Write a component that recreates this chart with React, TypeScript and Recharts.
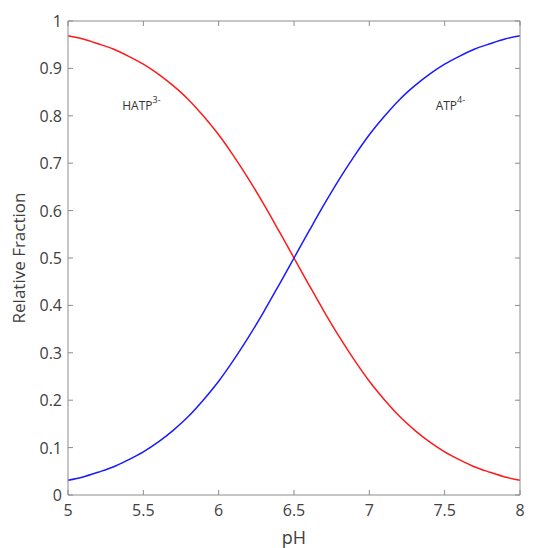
import { LineChart, Line, XAxis, YAxis, ReferenceDot, Label } from "recharts";

// pH grid and the fraction of each species read along it
const phValues = [
  5.0, 5.1, 5.2, 5.3, 5.4, 5.5, 5.6, 5.7, 5.8, 5.9, 6.0, 6.1, 6.2, 6.3, 6.4, 6.5,
  6.6, 6.7, 6.8, 6.9, 7.0, 7.1, 7.2, 7.3, 7.4, 7.5, 7.6, 7.7, 7.8, 7.9, 8.0,
];
const atp4 = [
  0.031, 0.038, 0.048, 0.059, 0.074, 0.091, 0.112, 0.137, 0.166, 0.201, 0.24,
  0.285, 0.334, 0.387, 0.443, 0.5, 0.557, 0.613, 0.666, 0.715, 0.76, 0.799,
  0.834, 0.863, 0.888, 0.909, 0.926, 0.941, 0.952, 0.962, 0.969,
];
const hatp3 = [
  0.969, 0.962, 0.952, 0.941, 0.926, 0.909, 0.888, 0.863, 0.834, 0.799, 0.76,
  0.715, 0.666, 0.613, 0.557, 0.5, 0.443, 0.387, 0.334, 0.285, 0.24, 0.201,
  0.166, 0.137, 0.112, 0.091, 0.074, 0.059, 0.048, 0.038, 0.031,
];
const xTicks = [5, 5.5, 6, 6.5, 7, 7.5, 8];
const yTicks = [0, 0.1, 0.2, 0.3, 0.4, 0.5, 0.6, 0.7, 0.8, 0.9, 1];

const rows = phValues.map((ph, i) => ({ ph, atp4: atp4[i], hatp3: hatp3[i] }));

const FONT = "'Open Sans', sans-serif";
const AXIS = "#8c8c8c";
const TEXT = "#404040";

function BottomTick({ x, y, payload }: any) {
  return (
    <g>
      <line x1={x} y1={y} x2={x} y2={y - 5} stroke={AXIS} />
      <text x={x} y={y + 21} textAnchor="middle" fill={TEXT} fontSize={16} fontFamily={FONT}>
        {payload.value}
      </text>
    </g>
  );
}

function LeftTick({ x, y, payload }: any) {
  return (
    <g>
      <line x1={x} y1={y} x2={x + 5} y2={y} stroke={AXIS} />
      <text x={x - 6} y={y + 6} textAnchor="end" fill={TEXT} fontSize={16} fontFamily={FONT}>
        {payload.value}
      </text>
    </g>
  );
}

function TopTick({ x, y }: any) {
  return <line x1={x} y1={y} x2={x} y2={y + 5} stroke={AXIS} />;
}

function RightTick({ x, y }: any) {
  return <line x1={x} y1={y} x2={x - 5} y2={y} stroke={AXIS} />;
}

function speciesLabel(name: string, charge: string) {
  return ({ viewBox }: any) => (
    <text x={viewBox.x} y={viewBox.y} fill="#333" fontSize={12} fontFamily={FONT}>
      {name}
      <tspan dy={-7} fontSize={9}>
        {charge}
      </tspan>
    </text>
  );
}

export default function App() {
  return (
    <div style={{ width: 541, height: 540, background: "#fff" }}>
      <LineChart
        width={541}
        height={540}
        data={rows}
        margin={{ top: 12, right: 28, left: 0, bottom: 21 }}
      >
        <XAxis
          dataKey="ph"
          type="number"
          domain={[5, 8]}
          ticks={xTicks}
          stroke={AXIS}
          tickLine={false}
          tickSize={0}
          tickMargin={0}
          tick={<BottomTick />}
          height={32}
        >
          <Label value="pH" position="bottom" offset={4} fill={TEXT} fontSize={18} fontFamily={FONT} />
        </XAxis>
        <XAxis
          xAxisId="top"
          orientation="top"
          dataKey="ph"
          type="number"
          domain={[5, 8]}
          ticks={xTicks}
          stroke={AXIS}
          tickLine={false}
          tickSize={0}
          tickMargin={0}
          tick={<TopTick />}
          height={1}
        />
        <YAxis
          type="number"
          domain={[0, 1]}
          ticks={yTicks}
          stroke={AXIS}
          tickLine={false}
          tickSize={0}
          tickMargin={0}
          tick={<LeftTick />}
          width={60}
        >
          <Label
            value="Relative Fraction"
            angle={-90}
            position="insideLeft"
            offset={0}
            dx={11}
            fill={TEXT}
            fontSize={17}
            fontFamily={FONT}
            style={{ textAnchor: "middle" }}
          />
        </YAxis>
        <YAxis
          yAxisId="right"
          orientation="right"
          type="number"
          domain={[0, 1]}
          ticks={yTicks}
          stroke={AXIS}
          tickLine={false}
          tickSize={0}
          tickMargin={0}
          tick={<RightTick />}
          width={1}
        />
        {/* invisible series so the top and right frame axes are drawn */}
        <Line
          dataKey="atp4"
          xAxisId="top"
          yAxisId="right"
          stroke="none"
          dot={false}
          activeDot={false}
          isAnimationActive={false}
        />
        <Line
          dataKey="hatp3"
          stroke="#ff1a1a"
          strokeWidth={1.5}
          dot={false}
          type="monotone"
          isAnimationActive={false}
        />
        <Line
          dataKey="atp4"
          stroke="#1a1aff"
          strokeWidth={1.5}
          dot={false}
          type="monotone"
          isAnimationActive={false}
        />
        <ReferenceDot x={5.36} y={0.812} r={0} label={speciesLabel("HATP", "3-")} />
        <ReferenceDot x={7.44} y={0.812} r={0} label={speciesLabel("ATP", "4-")} />
      </LineChart>
    </div>
  );
}
